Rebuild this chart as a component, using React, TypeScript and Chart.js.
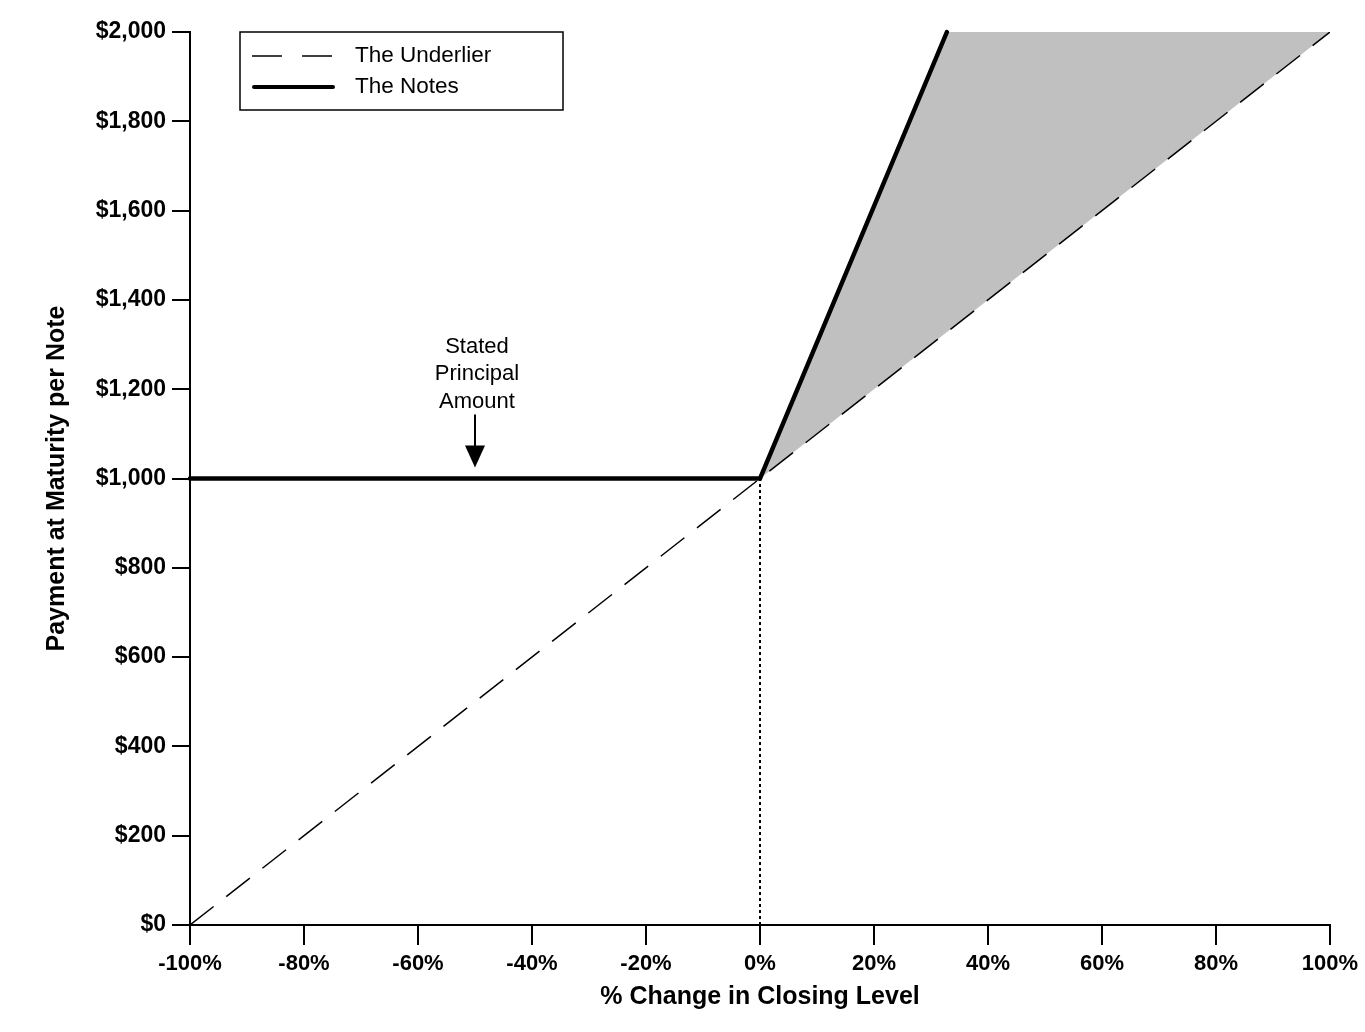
import { useEffect, useRef } from "react"
import { Chart, registerables } from "chart.js"

Chart.register(...registerables)

// % change in closing level (x) -> payment at maturity per note (y)
const underlierX = [-100, 100]
const underlierY = [0, 2000]
const notesX = [-100, 0, 32.79]
const notesY = [1000, 1000, 2000]
const shadeX = [0, 32.79, 100]
const shadeY = [1000, 2000, 2000]
const markerX = [0, 0]
const markerY = [0, 1000]

const xTicks = [-100, -80, -60, -40, -20, 0, 20, 40, 60, 80, 100]
const yTicks = [0, 200, 400, 600, 800, 1000, 1200, 1400, 1600, 1800, 2000]

const legendLabels = ["The Underlier", "The Notes"]
const noteLines = ["Stated", "Principal", "Amount"]
const noteAtX = -50
const noteAtY = 1000

const FONT = "'Liberation Sans', Arial, sans-serif"

const pts = (xs: number[], ys: number[]) => xs.map((x, i) => ({ x, y: ys[i] }))

const overlay = {
  id: "overlay",
  afterDraw(chart: any) {
    const { ctx, chartArea, scales } = chart
    ctx.save()

    // legend box
    const lx = chartArea.left + 50
    const ly = chartArea.top
    ctx.strokeStyle = "#000"
    ctx.lineWidth = 1.5
    ctx.strokeRect(lx, ly, 323, 78)
    ctx.font = `22.5px ${FONT}`
    ctx.fillStyle = "#000"
    ctx.textBaseline = "middle"
    ctx.textAlign = "left"
    ctx.lineWidth = 1.5
    ctx.setLineDash([30, 20])
    ctx.beginPath()
    ctx.moveTo(lx + 12, ly + 24)
    ctx.lineTo(lx + 95, ly + 24)
    ctx.stroke()
    ctx.setLineDash([])
    ctx.lineWidth = 4
    ctx.lineCap = "round"
    ctx.beginPath()
    ctx.moveTo(lx + 14, ly + 55)
    ctx.lineTo(lx + 93, ly + 55)
    ctx.stroke()
    ctx.fillText(legendLabels[0], lx + 115, ly + 24)
    ctx.fillText(legendLabels[1], lx + 115, ly + 55)

    // stated principal amount note
    const px = scales.x.getPixelForValue(noteAtX)
    const py = scales.y.getPixelForValue(noteAtY)
    ctx.textAlign = "center"
    ctx.font = `22px ${FONT}`
    noteLines.forEach((t, i) => ctx.fillText(t, px + 2, py - 132 + i * 27.5))
    ctx.lineWidth = 2
    ctx.lineCap = "butt"
    ctx.beginPath()
    ctx.moveTo(px, py - 64)
    ctx.lineTo(px, py - 30)
    ctx.stroke()
    ctx.beginPath()
    ctx.moveTo(px - 10, py - 33)
    ctx.lineTo(px + 10, py - 33)
    ctx.lineTo(px, py - 11)
    ctx.closePath()
    ctx.fill()

    ctx.restore()
  },
}

export default function App() {
  const chartRef = useRef<HTMLCanvasElement>(null)
  const chartInstance = useRef<Chart | null>(null)

  useEffect(() => {
    if (!chartRef.current) return
    if (chartInstance.current) chartInstance.current.destroy()
    const ctx = chartRef.current.getContext("2d")
    if (!ctx) return

    chartInstance.current = new Chart(ctx, {
      type: "line",
      data: {
        datasets: [
          {
            label: "The Notes",
            data: pts(notesX, notesY),
            borderColor: "#000",
            borderWidth: 4.5,
            borderCapStyle: "round",
            pointRadius: 0,
            fill: false,
            clip: false,
          },
          {
            label: "The Underlier",
            data: pts(underlierX, underlierY),
            borderColor: "#000",
            borderWidth: 1.5,
            borderDash: [30, 16],
            pointRadius: 0,
            fill: false,
          },
          {
            label: "shade",
            data: pts(shadeX, shadeY),
            borderWidth: 0,
            borderColor: "rgba(0,0,0,0)",
            backgroundColor: "#c0c0c0",
            pointRadius: 0,
            fill: 1,
          },
          {
            label: "marker",
            data: pts(markerX, markerY),
            borderColor: "#000",
            borderWidth: 2,
            borderDash: [3, 3],
            pointRadius: 0,
            fill: false,
          },
        ],
      },
      options: {
        animation: false,
        responsive: true,
        maintainAspectRatio: false,
        layout: { padding: { top: 32, right: 35, left: 0, bottom: 0 } },
        plugins: {
          legend: { display: false },
          tooltip: { enabled: false },
        },
        scales: {
          x: {
            type: "linear",
            min: -100,
            max: 100,
            afterFit: (s: any) => {
              s.height = 107
            },
            afterBuildTicks: (s: any) => {
              s.ticks = xTicks.map((v) => ({ value: v }))
            },
            ticks: {
              color: "#000",
              padding: 6,
              maxRotation: 0,
              font: { family: FONT, size: 22, weight: "bold" },
              callback: (v: any) => `${v}%`,
            },
            grid: { drawOnChartArea: false, tickLength: 20, color: "#000", lineWidth: 2 },
            border: { color: "#000", width: 2 },
            title: {
              display: true,
              text: "% Change in Closing Level",
              color: "#000",
              font: { family: FONT, size: 25, weight: "bold" },
              padding: { bottom: 20, top: 0 },
            },
          },
          y: {
            min: 0,
            max: 2000,
            afterFit: (s: any) => {
              s.width = 190
            },
            afterBuildTicks: (s: any) => {
              s.ticks = yTicks.map((v) => ({ value: v }))
            },
            ticks: {
              color: "#000",
              padding: 6,
              font: { family: FONT, size: 23, weight: "bold" },
              callback: (v: any) => "$" + Number(v).toLocaleString("en-US"),
            },
            grid: { drawOnChartArea: false, tickLength: 18, color: "#000", lineWidth: 2 },
            border: { color: "#000", width: 2 },
            title: {
              display: true,
              text: "Payment at Maturity per Note",
              color: "#000",
              font: { family: FONT, size: 25, weight: "bold" },
              padding: { top: 42, bottom: 0 },
            },
          },
        },
      },
      plugins: [overlay],
    })

    return () => {
      if (chartInstance.current) {
        chartInstance.current.destroy()
        chartInstance.current = null
      }
    }
  }, [])

  return (
    <div style={{ position: "fixed", left: 0, top: 0, width: 1365, height: 1032, background: "#fff" }}>
      <canvas ref={chartRef} />
    </div>
  )
}
